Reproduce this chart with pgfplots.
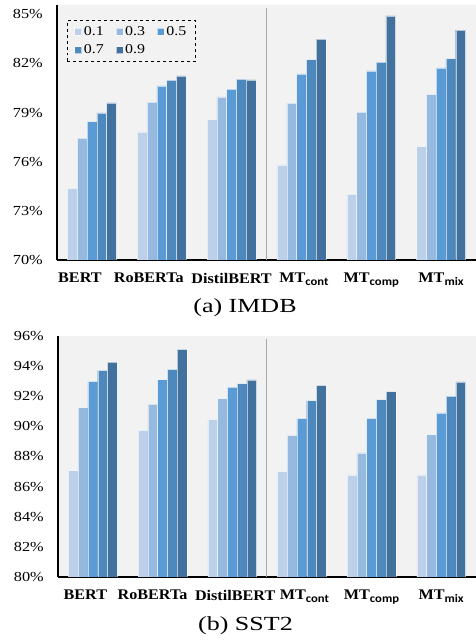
\documentclass[border=0pt]{standalone}
\usepackage{fontspec}
\usepackage{pgfplots}
\usepackage{pgfplotstable}
\pgfplotsset{compat=1.18}
\setmainfont{Liberation Serif}
\newfontfamily\tickfam[FakeStretch=1.18]{Liberation Serif}
\newfontfamily\catfam[FakeStretch=1.1]{Liberation Serif}
\newfontfamily\subfam[FakeStretch=1.1]{Carlito}
\newfontfamily\capfam[FakeStretch=1.3]{Liberation Serif}
\newcommand{\tickfont}{\tickfam\fontsize{13.8bp}{15bp}\selectfont}
\newcommand{\legfont}{\tickfam\fontsize{13.5bp}{15bp}\selectfont}
\newcommand{\catfont}{\catfam\bfseries\fontsize{14.7bp}{16bp}\selectfont}
\newcommand{\sub}[1]{\raisebox{-2.5bp}{\subfam\bfseries\fontsize{11.5bp}{13bp}\selectfont #1}}
\newcommand{\capfont}{\capfam\fontsize{20bp}{22bp}\selectfont}
\definecolor{cA}{HTML}{BDD0EA}
\definecolor{cB}{HTML}{96B9E0}
\definecolor{cC}{HTML}{5B9BD5}
\definecolor{cD}{HTML}{4E89BE}
\definecolor{cE}{HTML}{41719C}
\definecolor{bg}{HTML}{F2F2F2}
\definecolor{sep}{HTML}{A6A6A6}

\pgfplotstableread{
x a1 a3 a5 a7 a9
0 74.38 77.44 78.45 78.98 79.59
1 77.82 79.64 80.63 80.98 81.24
2 78.57 79.96 80.43 81.04 81.00
3 75.81 79.58 81.37 82.24 83.48
4 74.02 79.03 81.55 82.08 84.91
5 76.93 80.12 81.73 82.30 84.03
}\imdb
\pgfplotstableread{
x a1 a3 a5 a7 a9
0 87.07 91.24 92.98 93.71 94.27
1 89.73 91.47 93.11 93.78 95.11
2 90.47 91.84 92.60 92.84 93.09
3 87.00 89.40 90.53 91.71 92.73
4 86.78 88.24 90.53 91.78 92.31
5 86.78 89.45 90.89 92.00 92.95
}\sst

\pgfplotsset{
  mybars/.style={
    scale only axis,
    ybar,
    bar width=0.14,
    xmin=-0.5, xmax=5.5,
    axis x line*=bottom, axis y line*=left,
    axis line style={black, line width=1.5bp, -},
    axis background/.style={fill=bg},
    major tick length=0pt,
    xtick={0,1,2,3,4,5},
    yticklabel style={font=\tickfont, anchor=east, inner sep=0pt, xshift=-14bp},
    xticklabel style={font=\catfont, anchor=north, inner sep=0pt, yshift=-13bp},
    every axis plot/.append style={draw=white, draw opacity=0.6, line width=0.4bp},
  },
}

\begin{document}
\begin{tikzpicture}
\path[use as bounding box] (0,0) rectangle (476bp,641bp);

\begin{axis}[mybars,
  at={(57bp,381bp)}, anchor=south west,
  width=419bp, height=255bp,
  ymin=70, ymax=85.57,
  ytick={70,73,76,79,82,85},
  yticklabels={70\%,73\%,76\%,79\%,82\%,85\%},
  xticklabels={{BERT\hspace*{24bp}},{RoBERTa\hspace*{26bp}},{DistilBERT},{\hspace*{5bp}MT\sub{cont}},{MT\sub{comp}},{MT\sub{mix}}},
  legend columns=3,
  legend style={at={(rel axis cs:0.024,0.941)}, anchor=north west,
    draw=black, dashed, line width=0.8bp, fill=none, font=\legfont,
    inner xsep=7bp, inner ysep=4bp, row sep=4bp,
    /tikz/every even column/.append style={column sep=10bp}},
  legend image code/.code={\fill[#1] (0bp,-3.5bp) rectangle (7bp,3.5bp);},
]
\addplot[fill=cA, bar shift=-0.28] table[x=x,y=a1]{\imdb};
\addplot[fill=cB, bar shift=-0.14] table[x=x,y=a3]{\imdb};
\addplot[fill=cC, bar shift=0] table[x=x,y=a5]{\imdb};
\addplot[fill=cD, bar shift=0.14] table[x=x,y=a7]{\imdb};
\addplot[fill=cE, bar shift=0.28] table[x=x,y=a9]{\imdb};
\legend{0.1,0.3,0.5,0.7,0.9}
\draw[sep, line width=1bp] (axis cs:2.5,70) -- (axis cs:2.5,85.4);
\end{axis}

\begin{axis}[mybars,
  at={(58bp,64bp)}, anchor=south west,
  width=418bp, height=241bp,
  ymin=80, ymax=96,
  ytick={80,82,84,86,88,90,92,94,96},
  yticklabels={80\%,82\%,84\%,86\%,88\%,90\%,92\%,94\%,96\%},
  xticklabels={{BERT\hspace*{15bp}},{RoBERTa\hspace*{20bp}},{\hspace*{6bp}DistilBERT},{\hspace*{5bp}MT\sub{cont}},{MT\sub{comp}},{MT\sub{mix}}},
]
\addplot[fill=cA, bar shift=-0.28] table[x=x,y=a1]{\sst};
\addplot[fill=cB, bar shift=-0.14] table[x=x,y=a3]{\sst};
\addplot[fill=cC, bar shift=0] table[x=x,y=a5]{\sst};
\addplot[fill=cD, bar shift=0.14] table[x=x,y=a7]{\sst};
\addplot[fill=cE, bar shift=0.28] table[x=x,y=a9]{\sst};
\draw[sep, line width=1bp] (axis cs:2.5,80) -- (axis cs:2.5,95.8);
\end{axis}

\node[font=\capfont] at (245bp,333bp) {(a) IMDB};
\node[font=\capfont] at (245.5bp,15bp) {(b) SST2};
\end{tikzpicture}
\end{document}
